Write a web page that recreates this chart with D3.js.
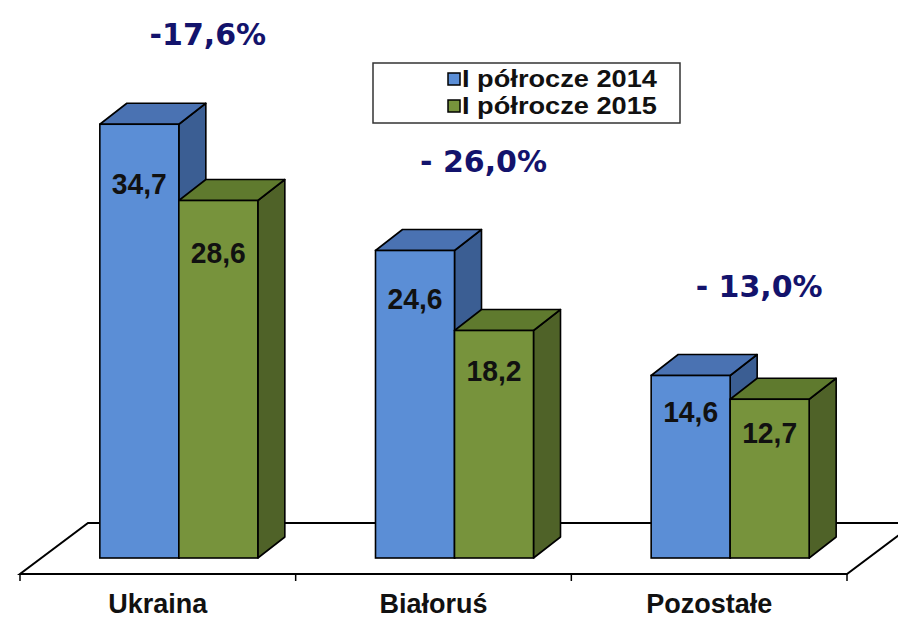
<!DOCTYPE html>
<html>
<head>
  <meta charset="utf-8">
  <script src="https://d3js.org/d3.v7.min.js"></script>
  <style>
    body { margin: 0; background: white; }
  </style>
</head>
<body>
<svg id="mainSvg" width="898" height="621"></svg>

<script>
    // chart data
    var categories = ["Ukraina", "Białoruś", "Pozostałe"];
    var series = ["I półrocze 2014", "I półrocze 2015"];
    var values2014 = [34.7, 24.6, 14.6];
    var values2015 = [28.6, 18.2, 12.7];
    var changeLabels = ["-17,6%", "- 26,0%", "- 13,0%"];

    var svg = d3.select("#mainSvg");

    // front edge of floor, category bands
    var x = d3.scaleBand()
        .domain(categories)
        .range([20, 847]);

    var xInner = d3.scaleBand()
        .domain(series)
        .range([-79, 79]);

    var y = d3.scaleLinear()
        .domain([0, 40])
        .range([558, 58]);

    var floorY = 574, floorDx = 68, floorDy = -51;
    var shift = 21;          // bars stand a bit back on the floor
    var dx = 27, dy = -21;   // bar depth

    var front = ["#5b8ed6", "#77933c"];
    var topC  = ["#4a72b2", "#5f7a2e"];
    var sideC = ["#3b5e93", "#4f6228"];

    // Floor
    var x0 = x.range()[0], x1 = x.range()[1];
    svg.append("path")
        .attr("d", "M" + x0 + "," + floorY + "L" + x1 + "," + floorY +
            "L" + (x1 + floorDx) + "," + (floorY + floorDy) +
            "L" + (x0 + floorDx) + "," + (floorY + floorDy) + "Z")
        .attr("fill", "white")
        .attr("stroke", "black")
        .attr("stroke-width", 2);

    // tick marks on front edge
    var ticks = categories.map(c => x(c)).concat([x1]);
    svg.selectAll(".tick").data(ticks).enter().append("line")
        .attr("x1", d => d).attr("x2", d => d)
        .attr("y1", floorY).attr("y2", floorY + 7)
        .attr("stroke", "black").attr("stroke-width", 1.5);

    // bar data
    var bars = [];
    categories.forEach(function(c, i) {
        bars.push({cat: c, s: 0, v: values2014[i]});
        bars.push({cat: c, s: 1, v: values2015[i]});
    });

    var g = svg.append("g");
    bars.forEach(function(b) {
        var cx = x(b.cat) + x.bandwidth() / 2 + shift;
        var left = cx + xInner(series[b.s]);
        var right = left + xInner.bandwidth();
        var top = y(b.v), bottom = y(0);

        // side
        g.append("path")
            .attr("d", "M" + right + "," + bottom + "L" + (right + dx) + "," + (bottom + dy) +
                "L" + (right + dx) + "," + (top + dy) + "L" + right + "," + top + "Z")
            .attr("fill", sideC[b.s]).attr("stroke", "black").attr("stroke-width", 1.6)
            .attr("stroke-linejoin", "round");
        // top
        g.append("path")
            .attr("d", "M" + left + "," + top + "L" + (left + dx) + "," + (top + dy) +
                "L" + (right + dx) + "," + (top + dy) + "L" + right + "," + top + "Z")
            .attr("fill", topC[b.s]).attr("stroke", "black").attr("stroke-width", 1.6)
            .attr("stroke-linejoin", "round");
        // front
        g.append("rect")
            .attr("x", left).attr("y", top)
            .attr("width", right - left).attr("height", bottom - top)
            .attr("fill", front[b.s]).attr("stroke", "black").attr("stroke-width", 1.6);

        // value label
        var h = bottom - top;
        g.append("text")
            .attr("x", (left + right) / 2)
            .attr("y", top + 18 + 0.095 * h + 11)
            .attr("text-anchor", "middle")
            .attr("font-family", "Liberation Sans, Arial, sans-serif")
            .attr("font-weight", "bold")
            .attr("font-size", 30)
            .attr("textLength", 55)
            .attr("lengthAdjust", "spacingAndGlyphs")
            .attr("fill", "#111")
            .text(String(b.v).replace(".", ","));
    });

    // change labels
    svg.selectAll(".change").data(categories).enter().append("text")
        .attr("x", c => x(c) + x.bandwidth() / 2 + shift + 29)
        .attr("y", (c, i) => y(values2014[i]) + dy - 58)
        .attr("text-anchor", "middle")
        .attr("font-family", "DejaVu Sans, Verdana, sans-serif")
        .attr("font-weight", "bold")
        .attr("font-size", 30)
        .attr("fill", "#13136c")
        .text((c, i) => changeLabels[i]);

    // category labels
    svg.selectAll(".cat").data(categories).enter().append("text")
        .attr("x", c => x(c) + x.bandwidth() / 2)
        .attr("y", 613)
        .attr("text-anchor", "middle")
        .attr("font-family", "Liberation Sans, Arial, sans-serif")
        .attr("font-weight", "bold")
        .attr("font-size", 27)
        .attr("fill", "#111")
        .text(c => c);

    // Legend
    var legend = svg.append("g");
    legend.append("rect")
        .attr("x", 373).attr("y", 63).attr("width", 307).attr("height", 60)
        .attr("fill", "white").attr("stroke", "#333").attr("stroke-width", 1.5);
    series.forEach(function(s, i) {
        legend.append("rect")
            .attr("x", 448).attr("y", 73 + i * 27).attr("width", 12).attr("height", 12)
            .attr("fill", front[i]).attr("stroke", "black").attr("stroke-width", 1.5);
        legend.append("text")
            .attr("x", 462).attr("y", 87 + i * 26.5)
            .attr("font-family", "Liberation Sans, Arial, sans-serif")
            .attr("font-weight", "bold")
            .attr("font-size", 24)
            .attr("textLength", 195)
            .attr("lengthAdjust", "spacingAndGlyphs")
            .attr("fill", "#111")
            .text(s);
    });
</script>
</body>
</html>
